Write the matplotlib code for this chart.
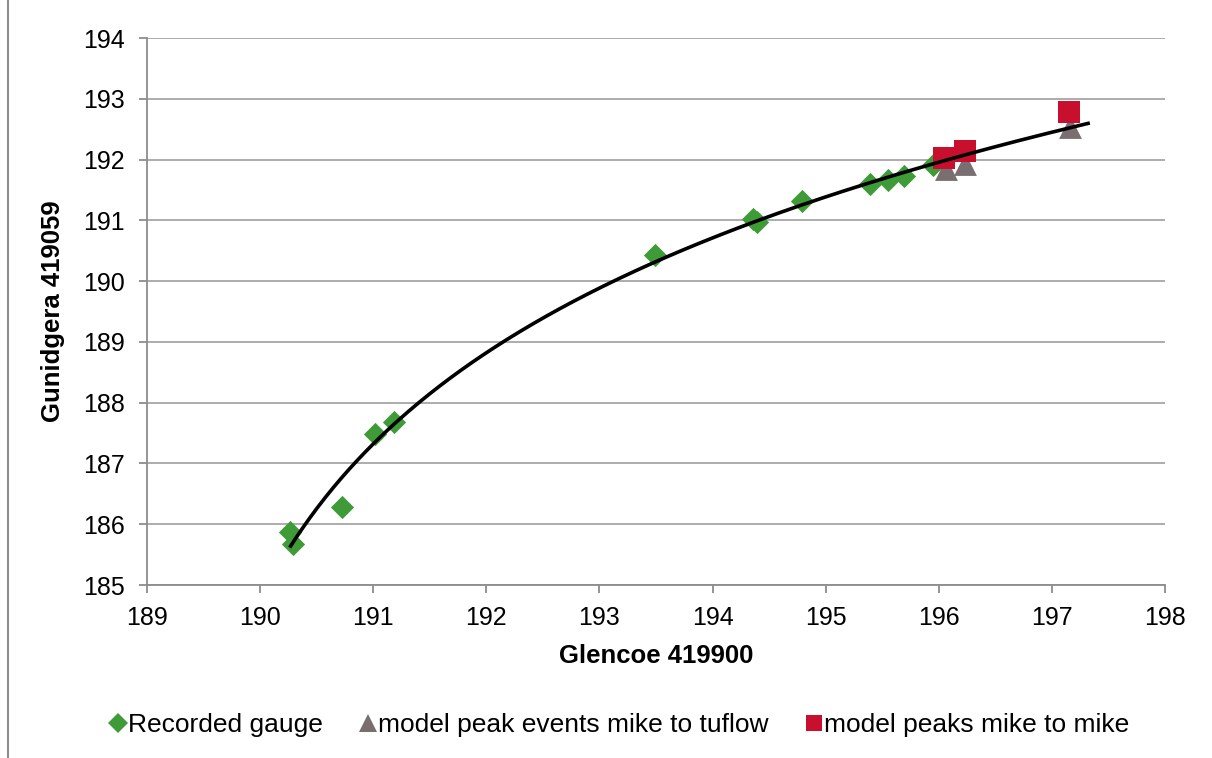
import numpy as np
import matplotlib
matplotlib.use("Agg")
import matplotlib.pyplot as plt
from matplotlib.lines import Line2D

plt.rcParams['font.family'] = ['Liberation Sans', 'DejaVu Sans']

# Recorded gauge
rec_x = [190.26, 190.29, 190.72, 191.02, 191.18, 193.49, 194.36, 194.39, 194.79, 195.39, 195.55, 195.69, 195.95]
rec_y = [185.87, 185.67, 186.29, 187.48, 187.68, 190.43, 191.03, 190.98, 191.32, 191.59, 191.66, 191.73, 191.91]
# model peak events mike to tuflow
tuf_x = [196.06, 196.23, 197.16]
tuf_y = [191.84, 191.93, 192.53]
# model peaks mike to mike
mm_x = [196.05, 196.23, 197.15]
mm_y = [192.03, 192.14, 192.78]

# trendline range
trend_x0, trend_x1 = 190.27, 197.32

xticks = list(range(189, 199))
yticks = list(range(185, 195))

W, H = 1212, 758
fig = plt.figure(figsize=(W/100, H/100), dpi=100)
ax = fig.add_axes([147/W, 1-585/H, (1165-147)/W, (585-38)/H])

fig.add_artist(Line2D([7.5/W, 7.5/W], [0, 1], transform=fig.transFigure,
                      color='#8c8c8c', lw=1.5))

ax.scatter(rec_x, rec_y, marker='D', s=140, color='#3F9B37', zorder=3, linewidths=0)
ax.scatter(tuf_x, tuf_y, marker='^', s=270, color='#7A6F70', zorder=3, linewidths=0)
ax.scatter(mm_x, mm_y, marker='s', s=230, color='#C8102E', zorder=4, linewidths=0)

# logarithmic trendline fitted to recorded gauge data
all_x = np.array(rec_x)
all_y = np.array(rec_y)
coef = np.polyfit(np.log(all_x - 189.0), all_y, 1)
xt = np.linspace(trend_x0, trend_x1, 300)
ax.plot(xt, np.polyval(coef, np.log(xt - 189.0)), color='black', lw=2.6, zorder=5)

ax.set_xlim(189, 198)
ax.set_ylim(185, 194)
ax.set_xticks(xticks)
ax.set_yticks(yticks)
ax.grid(axis='y', color='#a6a6a6', lw=1.3)
ax.set_axisbelow(True)
for s in ['top', 'right']:
    ax.spines[s].set_visible(False)
for s in ['left', 'bottom']:
    ax.spines[s].set_color('#8c8c8c')
    ax.spines[s].set_linewidth(1.3)
ax.tick_params(axis='both', labelsize=18, color='#8c8c8c', length=6, width=1.3, direction='out')
ax.tick_params(axis='x', pad=9)
ax.tick_params(axis='y', pad=10)
ax.set_xlabel('Glencoe 419900', fontsize=18.5, fontweight='bold', labelpad=10)
ax.set_ylabel('Gunidgera 419059', fontsize=18.5, fontweight='bold', labelpad=13)

handles = [
    Line2D([], [], ls='none', marker='D', ms=10, color='#3F9B37', mew=0),
    Line2D([], [], ls='none', marker='^', ms=13, color='#7A6F70', mew=0),
    Line2D([], [], ls='none', marker='s', ms=12, color='#C8102E', mew=0),
]
labels = ['Recorded gauge', 'model peak events mike to tuflow', 'model peaks mike to mike']
fig.legend(handles, labels, loc='center', bbox_to_anchor=(617/W, 1-725/H), ncol=3, frameon=False,
           fontsize=19, handletextpad=-0.1, columnspacing=1.2, handlelength=1.0)

fig.savefig('out.png', dpi=100)
